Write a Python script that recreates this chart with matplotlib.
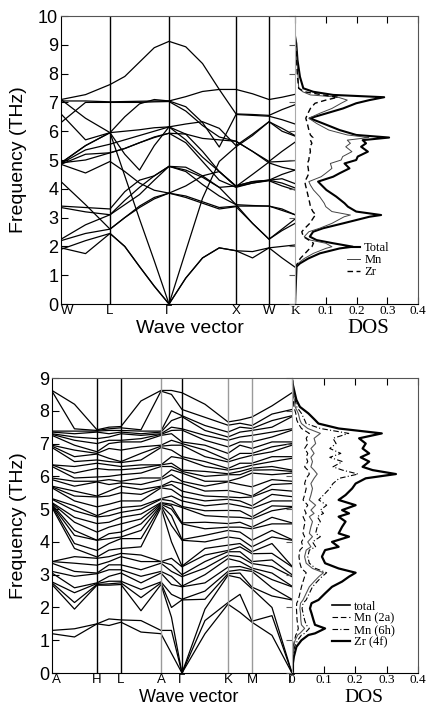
import matplotlib
matplotlib.use("Agg")
import matplotlib.pyplot as plt
import numpy as np

SANS = "Liberation Sans"
SERIF = "Liberation Serif"

# -- top panel: cubic ZrMn2, path W-L-G-X-W-K
TOP_TICKS = [0, 49, 108, 175, 208, 234]
TOP_LABELS = ["W", "L", "\u0393", "X", "W", ""]
TOP_SPLIT = [2, 4, 4, 2, 2]          # samples per segment
# band values at W, WL, L, LG x3, G, GX x3, X, XW, W, WK, K
top_bands = [
    [7.10, 7.27, 7.62, 7.90, 8.40, 8.90, 9.12, 8.93, 8.35, 7.45, 6.60, 6.58, 6.55, 6.75, 6.92],
    [7.05, 7.05, 7.02, 7.03, 7.04, 7.05, 7.05, 7.20, 7.38, 7.45, 7.45, 7.30, 7.10, 7.18, 7.28],
    [6.60, 5.70, 5.95, 6.50, 6.95, 7.10, 7.05, 6.85, 6.30, 5.45, 6.58, 6.55, 6.52, 6.40, 6.25],
    [6.30, 7.00, 7.00, 7.00, 7.00, 7.02, 7.03, 6.70, 6.20, 5.80, 5.65, 5.30, 4.95, 5.30, 5.62],
    [7.10, 6.45, 5.95, 5.20, 4.65, 5.50, 6.15, 6.25, 6.33, 6.10, 5.50, 5.90, 6.33, 6.10, 5.85],
    [4.90, 5.50, 5.95, 6.00, 6.05, 6.12, 6.15, 5.90, 5.30, 4.60, 4.10, 4.25, 4.30, 4.35, 4.18],
    [4.88, 5.35, 5.55, 5.70, 5.85, 6.00, 6.15, 5.70, 5.10, 4.60, 4.08, 4.50, 4.93, 4.95, 4.98],
    [4.85, 5.20, 5.25, 5.40, 5.60, 5.80, 5.93, 5.60, 4.95, 4.30, 4.05, 4.20, 4.30, 4.20, 4.03],
    [4.90, 5.00, 5.25, 5.40, 5.60, 5.78, 5.93, 5.90, 5.75, 5.70, 5.65, 5.30, 4.90, 4.75, 4.65],
    [4.85, 4.55, 4.95, 4.60, 4.20, 3.95, 3.85, 3.75, 3.55, 3.35, 3.40, 3.40, 3.40, 3.30, 3.10],
    [4.25, 3.45, 2.60, 3.00, 3.40, 3.70, 3.85, 4.10, 4.45, 4.60, 4.08, 4.20, 4.28, 4.10, 3.96],
    [3.40, 3.35, 3.30, 3.90, 4.30, 4.45, 4.78, 4.60, 4.15, 3.75, 3.45, 3.42, 3.40, 3.25, 3.10],
    [3.35, 3.20, 3.10, 3.60, 4.05, 4.45, 4.78, 4.65, 4.40, 4.05, 3.45, 2.80, 2.25, 2.60, 2.95],
    [2.25, 2.75, 3.10, 3.45, 3.80, 4.30, 4.78, 4.75, 4.45, 4.05, 4.10, 4.25, 4.30, 4.50, 4.65],
    [2.20, 2.45, 2.60, 3.00, 3.35, 3.65, 3.85, 3.70, 3.50, 3.30, 3.38, 2.80, 2.25, 2.55, 2.80],
    [1.95, 1.75, 2.45, 2.00, 1.30, 0.62, 0.00, 0.90, 1.60, 1.95, 1.85, 1.82, 1.95, 2.00, 2.05],
    [1.90, 2.20, 2.45, 2.00, 1.30, 0.62, 0.00, 0.90, 1.60, 1.95, 1.85, 1.60, 1.95, 1.60, 1.28],
    [4.90, 5.50, 5.95, 4.45, 2.95, 1.50, 0.00, 1.84, 3.67, 4.95, 5.46, 5.85, 6.33, 6.00, 5.83],
]

top_freq = [0, 1.3, 1.41, 1.58, 1.76, 1.93, 1.99, 2.11, 2.22, 2.34, 2.51, 2.63, 2.80,
            3.03, 3.09, 3.21, 3.38, 3.50, 3.73, 3.96, 4.13, 4.25, 4.42, 4.54, 4.71,
            4.88, 5.00, 5.12, 5.29, 5.46, 5.58, 5.69, 5.78, 5.87, 6.04, 6.27, 6.45,
            6.62, 6.79, 6.97, 7.08, 7.18, 7.26, 7.37, 7.49, 7.89, 8.47, 9.05, 9.17, 9.3]
top_total = [0, 0.005, 0.016, 0.043, 0.081, 0.145, 0.188, 0.124, 0.070, 0.048, 0.059,
             0.091, 0.156, 0.242, 0.280, 0.199, 0.172, 0.161, 0.134, 0.102, 0.086,
             0.075, 0.124, 0.145, 0.177, 0.161, 0.199, 0.204, 0.237, 0.215, 0.231,
             0.220, 0.306, 0.199, 0.145, 0.091, 0.048, 0.102, 0.156, 0.199, 0.242,
             0.290, 0.124, 0.059, 0.027, 0.016, 0.008, 0.004, 0.002, 0.0]
top_mn = [0, 0.003, 0.01, 0.03, 0.06, 0.10, 0.12, 0.10, 0.05, 0.03, 0.045, 0.08, 0.12,
          0.16, 0.18, 0.12, 0.10, 0.095, 0.08, 0.06, 0.05, 0.045, 0.085, 0.10, 0.12,
          0.115, 0.15, 0.155, 0.185, 0.165, 0.18, 0.17, 0.24, 0.17, 0.11, 0.07, 0.045,
          0.08, 0.12, 0.15, 0.17, 0.14, 0.05, 0.025, 0.012, 0.01, 0.006, 0.004, 0.002, 0.0]
top_zr = [0, 0.002, 0.008, 0.017, 0.033, 0.048, 0.055, 0.06, 0.045, 0.027, 0.022, 0.032,
          0.048, 0.062, 0.068, 0.058, 0.05, 0.048, 0.043, 0.038, 0.034, 0.032, 0.04,
          0.045, 0.043, 0.04, 0.045, 0.046, 0.05, 0.048, 0.055, 0.05, 0.058, 0.05,
          0.045, 0.04, 0.035, 0.042, 0.05, 0.065, 0.1, 0.14, 0.09, 0.03, 0.012, 0.008,
          0.005, 0.003, 0.002, 0.0]

# -- bottom panel: hexagonal ZrMn2, path A-H-L-A-G-K-M-G
BOT_TICKS = [0, 45, 69, 109, 130, 176, 200, 240]
BOT_LABELS = ["A", "H", "L", "A", "\u0393", "K", "M", "\u0393"]
BOT_TICK_GRAY = [False, False, False, True, False, True, True, False]
# frequencies (sorted) read at each sample point along the path
col_A = [1.20, 1.30, 2.70, 2.75, 2.78, 3.05, 3.10, 3.35, 3.40, 3.40, 5.05, 5.10, 5.12,
         5.15, 5.18, 5.20, 5.30, 5.32, 5.65, 5.68, 5.70, 5.90, 5.95, 6.30, 6.35, 6.35,
         6.88, 6.92, 6.95, 7.25, 7.28, 7.30, 7.35, 7.38, 8.60, 8.62]
col_AH = [1.10, 1.35, 1.95, 2.15, 2.45, 2.60, 2.95, 3.10, 3.35, 3.55, 3.80, 3.95, 4.20,
          4.35, 4.60, 4.75, 4.95, 5.10, 5.25, 5.40, 5.55, 5.70, 5.85, 5.95, 6.10, 6.30,
          6.45, 6.60, 6.80, 6.95, 7.10, 7.20, 7.30, 7.38, 7.45, 8.20]
col_H = [1.50, 1.50, 2.68, 2.70, 2.73, 2.75, 3.03, 3.05, 3.29, 3.50, 3.54, 3.74, 4.05,
         4.05, 4.30, 4.56, 4.76, 4.80, 5.07, 5.37, 5.40, 5.83, 5.85, 5.98, 6.24, 6.40,
         6.50, 6.68, 6.70, 6.75, 7.00, 7.15, 7.35, 7.38, 7.40, 7.42]
col_HL = [1.45, 1.65, 2.68, 2.72, 2.80, 2.95, 3.15, 3.30, 3.40, 3.55, 3.75, 3.95, 4.10,
          4.25, 4.45, 4.60, 4.80, 4.95, 5.15, 5.40, 5.55, 5.75, 5.90, 6.00, 6.20, 6.35,
          6.45, 6.55, 6.85, 7.00, 7.10, 7.20, 7.30, 7.40, 7.45, 7.50]
col_L = [1.55, 1.62, 2.70, 2.75, 2.80, 3.05, 3.15, 3.30, 3.55, 3.65, 3.80, 4.10, 4.15,
         4.30, 4.55, 4.75, 4.90, 5.05, 5.25, 5.50, 5.70, 5.80, 5.85, 6.05, 6.20, 6.30,
         6.42, 6.45, 6.80, 7.05, 7.10, 7.30, 7.35, 7.40, 7.48, 7.52]
col_LA = [1.25, 1.60, 1.90, 2.30, 2.55, 2.75, 2.95, 3.15, 3.40, 3.60, 3.85, 4.10, 4.35,
          4.55, 4.70, 4.85, 5.00, 5.10, 5.25, 5.45, 5.60, 5.75, 5.95, 6.10, 6.25, 6.35,
          6.50, 6.70, 6.90, 7.05, 7.15, 7.25, 7.30, 7.38, 7.42, 8.30]
col_AG = [0.60, 1.30, 1.70, 2.00, 2.40, 2.70, 2.95, 3.10, 3.30, 3.50, 4.00, 4.50, 4.80,
          5.00, 5.10, 5.15, 5.25, 5.40, 5.60, 5.75, 5.85, 6.05, 6.20, 6.30, 6.40, 6.60,
          6.80, 6.95, 7.10, 7.30, 7.40, 7.50, 7.70, 8.00, 8.50, 8.62]
col_G = [0.00, 0.00, 0.00, 2.23, 2.25, 2.63, 2.65, 2.94, 3.00, 3.24, 3.26, 4.05, 4.07,
         4.55, 4.58, 5.05, 5.08, 5.25, 5.38, 5.55, 5.78, 5.85, 6.10, 6.15, 6.19, 6.55,
         6.60, 6.95, 7.00, 7.05, 7.41, 7.45, 7.82, 7.85, 8.04, 8.55]
col_GK = [1.20, 1.60, 1.95, 2.25, 2.50, 2.75, 3.00, 3.20, 3.40, 3.60, 3.80, 4.00, 4.20,
          4.40, 4.60, 4.80, 4.95, 5.10, 5.25, 5.40, 5.55, 5.70, 5.85, 6.00, 6.15, 6.30,
          6.45, 6.60, 6.80, 6.95, 7.10, 7.25, 7.40, 7.55, 7.80, 8.20]
col_K = [2.10, 2.15, 2.98, 3.03, 3.10, 3.23, 3.49, 3.59, 3.70, 3.74, 3.90, 4.15, 4.35,
         4.45, 4.56, 4.76, 4.96, 5.17, 5.30, 5.37, 5.57, 5.83, 5.85, 6.05, 6.08, 6.19,
         6.24, 6.44, 6.50, 6.70, 6.90, 7.10, 7.20, 7.35, 7.56, 7.66]
col_KM = [1.85, 2.40, 2.90, 3.05, 3.15, 3.25, 3.40, 3.55, 3.70, 3.85, 3.95, 4.10, 4.30,
          4.45, 4.60, 4.75, 4.95, 5.10, 5.25, 5.35, 5.50, 5.75, 5.95, 6.05, 6.15, 6.25,
          6.40, 6.55, 6.70, 6.95, 7.05, 7.20, 7.35, 7.50, 7.62, 7.72]
col_M = [1.55, 1.58, 2.57, 2.62, 3.10, 3.15, 3.20, 3.34, 3.40, 3.64, 3.70, 3.85, 4.05,
         4.40, 4.45, 4.70, 4.76, 5.02, 5.10, 5.37, 5.40, 5.68, 6.10, 6.19, 6.25, 6.34,
         6.40, 6.64, 6.70, 6.85, 7.05, 7.25, 7.40, 7.46, 7.55, 7.81]
col_MG = [1.15, 1.75, 2.00, 2.35, 2.60, 2.85, 3.05, 3.25, 3.45, 3.65, 3.95, 4.15, 4.35,
          4.55, 4.75, 4.95, 5.10, 5.25, 5.45, 5.60, 5.75, 5.90, 6.05, 6.20, 6.30, 6.45,
          6.60, 6.75, 6.90, 7.05, 7.20, 7.35, 7.50, 7.70, 7.90, 8.15]
bot_columns = [col_A, col_AH, col_H, col_HL, col_L, col_LA, col_A, col_AG, col_G,
               col_GK, col_K, col_KM, col_M, col_MG, col_G]

bot_freq = [0.04, 0.3, 0.5, 0.8, 1.0, 1.16, 1.21, 1.36, 1.47, 1.62, 1.82, 1.97, 2.13,
            2.23, 2.43, 2.63, 2.79, 2.94, 3.06, 3.19, 3.35, 3.55, 3.75, 3.85, 4.0,
            4.16, 4.26, 4.46, 4.62, 4.77, 4.87, 4.97, 5.12, 5.28, 5.43, 5.63, 5.78,
            5.94, 6.07, 6.19, 6.29, 6.45, 6.58, 6.7, 6.85, 7.0, 7.16, 7.31, 7.46,
            7.61, 7.72, 7.92, 8.12, 8.33, 8.53, 8.78, 8.94]
bot_total = [0.003, 0.003, 0.006, 0.014, 0.030, 0.052, 0.073, 0.105, 0.073, 0.068,
             0.062, 0.057, 0.062, 0.084, 0.105, 0.127, 0.159, 0.181, 0.202, 0.148,
             0.105, 0.095, 0.105, 0.148, 0.127, 0.181, 0.148, 0.159, 0.170, 0.148,
             0.181, 0.159, 0.202, 0.148, 0.170, 0.191, 0.202, 0.234, 0.330, 0.256,
             0.224, 0.245, 0.218, 0.245, 0.224, 0.234, 0.213, 0.285, 0.148, 0.084,
             0.073, 0.052, 0.025, 0.014, 0.009, 0.003, 0.0]
bot_mn2a = [0.001, 0.001, 0.002, 0.004, 0.008, 0.012, 0.015, 0.02, 0.018, 0.016, 0.015,
            0.014, 0.015, 0.02, 0.025, 0.03, 0.035, 0.04, 0.045, 0.03, 0.025, 0.022,
            0.025, 0.035, 0.03, 0.04, 0.035, 0.038, 0.042, 0.035, 0.045, 0.04, 0.05,
            0.035, 0.04, 0.045, 0.04, 0.045, 0.055, 0.05, 0.04, 0.05, 0.045, 0.05,
            0.04, 0.05, 0.045, 0.055, 0.03, 0.02, 0.015, 0.012, 0.006, 0.004, 0.003,
            0.002, 0.001]
bot_mn6h = [0.002, 0.002, 0.004, 0.008, 0.018, 0.03, 0.04, 0.055, 0.045, 0.04, 0.035,
            0.032, 0.035, 0.045, 0.055, 0.065, 0.08, 0.095, 0.11, 0.075, 0.055, 0.05,
            0.055, 0.075, 0.065, 0.09, 0.075, 0.08, 0.09, 0.08, 0.1, 0.09, 0.11, 0.085,
            0.1, 0.12, 0.13, 0.15, 0.21, 0.16, 0.13, 0.16, 0.12, 0.155, 0.12, 0.14,
            0.13, 0.18, 0.09, 0.045, 0.04, 0.03, 0.015, 0.01, 0.006, 0.003, 0.002]
bot_zr4f = [0.001, 0.001, 0.002, 0.005, 0.01, 0.018, 0.025, 0.04, 0.03, 0.028, 0.027,
            0.025, 0.027, 0.035, 0.045, 0.055, 0.07, 0.085, 0.1, 0.065, 0.045, 0.04,
            0.045, 0.06, 0.05, 0.065, 0.055, 0.06, 0.065, 0.055, 0.07, 0.06, 0.075,
            0.055, 0.06, 0.065, 0.06, 0.07, 0.08, 0.07, 0.06, 0.065, 0.06, 0.07, 0.06,
            0.075, 0.07, 0.09, 0.05, 0.03, 0.025, 0.02, 0.01, 0.007, 0.005, 0.003, 0.002]


def path_x(ticks, split):
    xs = [ticks[0]]
    for a, b, n in zip(ticks[:-1], ticks[1:], split):
        xs.extend(np.linspace(a, b, n + 1)[1:])
    return np.array(xs)


def band_panel(ax, xs, bands, ticks, labels, gray, ymax, ylab_x, xlab_pos, xlab_size):
    for b in bands:
        ax.plot(xs, b, color="black", lw=0.9)
    for t, g in zip(ticks[1:-1], gray[1:-1]):
        ax.axvline(t, color="#9a9a9a" if g else "black", lw=1.0)
    ax.set_xlim(ticks[0], ticks[-1])
    ax.set_ylim(0, ymax)
    ax.set_xticks(ticks)
    ax.set_xticklabels(labels, family=SANS, fontsize=9.5)
    ax.get_xticklabels()[0].set_ha("left")
    ax.set_yticks(range(0, ymax + 1))
    ax.tick_params(axis="y", direction="in", length=5, labelsize=13, pad=2)
    ax.tick_params(axis="x", length=0, pad=0.5)
    for lbl in ax.get_yticklabels():
        lbl.set_family(SANS)
    ax.spines["right"].set_visible(False)
    ax.spines["top"].set_color("#555555")
    ax.set_ylabel("Frequency (THz)", family=SANS, fontsize=14)
    ax.yaxis.set_label_coords(ylab_x, 0.5)
    ax.set_xlabel("Wave vector", family=SANS, fontsize=xlab_size)
    ax.xaxis.set_label_coords(*xlab_pos)


def dos_panel(ax, ymax, zero_label, xlab_pos, xlab_size):
    ax.set_xlim(0, 0.4)
    ax.set_ylim(0, ymax)
    ax.set_xticks([0, 0.1, 0.2, 0.3, 0.4])
    ax.set_xticklabels([zero_label, "0.1", "0.2", "0.3", "0.4"], family=SERIF, fontsize=9.5)
    ax.set_yticks(range(0, ymax + 1))
    ax.tick_params(axis="x", direction="in", top=True, length=5, pad=1)
    ax.tick_params(axis="y", direction="out", left=True, length=4, labelleft=False,
                   color="#555555")
    ax.spines["left"].set_color("#aaaaaa")
    ax.spines["top"].set_color("#555555")
    ax.spines["right"].set_color("#555555")
    ax.set_xlabel("DOS", family=SERIF, fontsize=xlab_size)
    ax.xaxis.set_label_coords(*xlab_pos)


fig = plt.figure(figsize=(4.30, 7.08), dpi=100)

# top
ax1 = fig.add_axes([0.1419, 0.5706, 0.5442, 0.4068])
xs_top = path_x(TOP_TICKS, TOP_SPLIT)
band_panel(ax1, xs_top, top_bands, TOP_TICKS, TOP_LABELS, [False] * 6, 10,
           -0.145, (0.551, -0.055), 14)

ax2 = fig.add_axes([0.6861, 0.5706, 0.2860, 0.4068])
ax2.plot(top_total, top_freq, color="black", lw=1.5, label="Total")
ax2.plot(top_mn, top_freq, color="#444444", lw=0.7, label="Mn")
ax2.plot(top_zr, top_freq, color="black", lw=1.0, ls=(0, (4, 2.5)), label="Zr")
dos_panel(ax2, 10, "K", (0.593, -0.052), 15)
ax2.legend(loc="upper left", bbox_to_anchor=(0.42, 0.215), frameon=False,
           prop={"family": SERIF, "size": 9}, handlelength=1.1,
           labelspacing=0.0, handletextpad=0.3, borderaxespad=0, borderpad=0)

# bottom
ax3 = fig.add_axes([0.1209, 0.0494, 0.5581, 0.4167])
xs_bot = path_x(BOT_TICKS, [2] * 7)
bot_bands = np.array(bot_columns).T
band_panel(ax3, xs_bot, bot_bands, BOT_TICKS, BOT_LABELS, BOT_TICK_GRAY, 9,
           -0.104, (0.571, -0.053), 13)

ax4 = fig.add_axes([0.6791, 0.0494, 0.2930, 0.4167])
ax4.plot(bot_total, bot_freq, color="black", lw=1.6, label="total")
ax4.plot(bot_mn2a, bot_freq, color="black", lw=0.8, ls=(0, (5, 2.5)), label="Mn (2a)")
ax4.plot(bot_mn6h, bot_freq, color="black", lw=0.8, ls=(0, (5, 2, 1, 2)), label="Mn (6h)")
ax4.plot(bot_zr4f, bot_freq, color="#555555", lw=0.8, label="Zr (4f)")
dos_panel(ax4, 9, "0", (0.571, -0.053), 14)
leg = ax4.legend(loc="upper left", bbox_to_anchor=(0.32, 0.245), frameon=False,
                 prop={"family": SERIF, "size": 9}, handlelength=1.4,
                 labelspacing=0.0, handletextpad=0.3, borderaxespad=0, borderpad=0)
leg.get_lines()[0].set_linewidth(1.2)
leg.get_lines()[3].set_linewidth(1.6)
leg.get_lines()[3].set_color("black")

fig.savefig("out.png", dpi=100)
